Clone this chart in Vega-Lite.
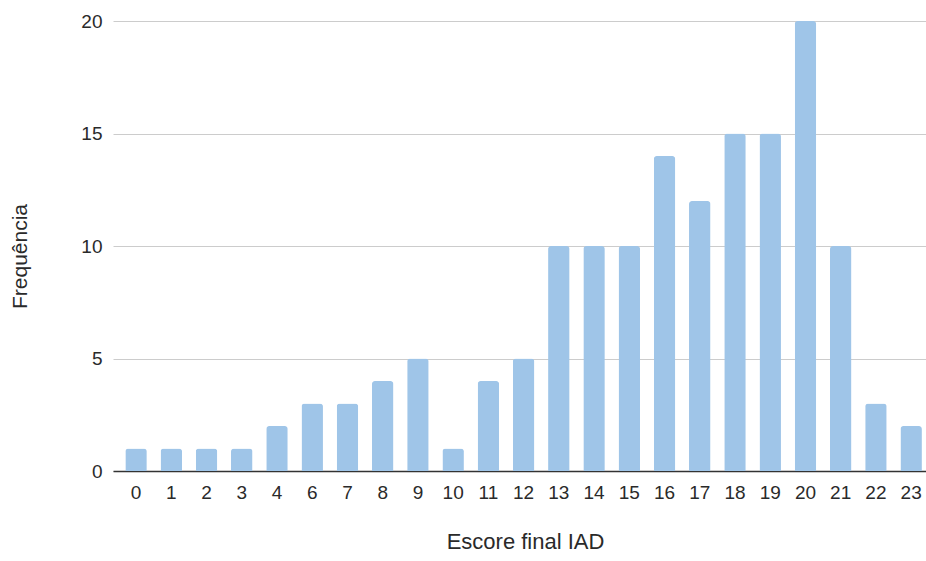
{
  "$schema": "https://vega.github.io/schema/vega-lite/v6.json",
  "autosize": {"type": "none"},
  "width": 813,
  "height": 450,
  "padding": {"left": 113, "top": 21, "right": 0, "bottom": 90},
  "background": "#ffffff",
  "config": {
    "view": {"stroke": null},
    "font": "Liberation Sans"
  },
  "data": {
    "values": [
      {"escore": "0", "freq": 1},
      {"escore": "1", "freq": 1},
      {"escore": "2", "freq": 1},
      {"escore": "3", "freq": 1},
      {"escore": "4", "freq": 2},
      {"escore": "6", "freq": 3},
      {"escore": "7", "freq": 3},
      {"escore": "8", "freq": 4},
      {"escore": "9", "freq": 5},
      {"escore": "10", "freq": 1},
      {"escore": "11", "freq": 4},
      {"escore": "12", "freq": 5},
      {"escore": "13", "freq": 10},
      {"escore": "14", "freq": 10},
      {"escore": "15", "freq": 10},
      {"escore": "16", "freq": 14},
      {"escore": "17", "freq": 12},
      {"escore": "18", "freq": 15},
      {"escore": "19", "freq": 15},
      {"escore": "20", "freq": 20},
      {"escore": "21", "freq": 10},
      {"escore": "22", "freq": 3},
      {"escore": "23", "freq": 2}
    ]
  },
  "mark": {
    "type": "bar",
    "color": "#9fc5e8",
    "cornerRadiusTopLeft": 3,
    "cornerRadiusTopRight": 3
  },
  "encoding": {
    "x": {
      "field": "escore",
      "type": "ordinal",
      "sort": null,
      "title": "Escore final IAD",
      "scale": {"paddingInner": 0.39, "paddingOuter": 0.233, "align": 0.75},
      "axis": {
        "labelAngle": 0,
        "labelFontSize": 19,
        "labelColor": "#2a2a2a",
        "labelPadding": 12,
        "ticks": false,
        "domainColor": "#333333",
        "domainWidth": 1.5,
        "titleFontSize": 22,
        "titleFontWeight": "normal",
        "titleColor": "#2a2a2a",
        "titlePadding": 29,
        "titleX": 412
      }
    },
    "y": {
      "field": "freq",
      "type": "quantitative",
      "title": "Frequência",
      "scale": {"domain": [0, 20], "nice": false},
      "axis": {
        "values": [0, 5, 10, 15, 20],
        "labelFontSize": 19,
        "labelColor": "#2a2a2a",
        "labelPadding": 11,
        "ticks": false,
        "domain": false,
        "gridColor": "#cccccc",
        "gridWidth": 1,
        "titleFontSize": 21,
        "titleFontWeight": "normal",
        "titleColor": "#2a2a2a",
        "titleX": -93,
        "titleY": 235,
        "titleBaseline": "middle"
      }
    }
  }
}
